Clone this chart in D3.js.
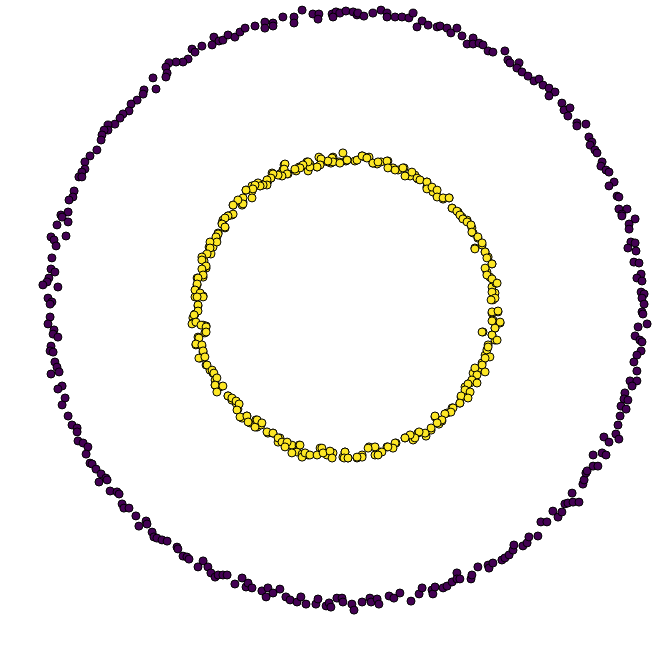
<!DOCTYPE html>
<html>
<head>
<meta charset="utf-8">
<script src="https://cdn.jsdelivr.net/npm/d3@7"></script>
<style>
html,body{margin:0;padding:0;background:#fff;}
svg{display:block;}
</style>
</head>
<body>
<div id="chart"></div>
<script>
// Class labels and colours (viridis endpoints)
const classes = ["outer", "inner"];
const classColors = ["#440154", "#fde725"];

// Outer ring (class 0) points, data units
const outerPoints = [
[-0.437,0.903],[-0.420,0.890],[-0.477,0.873],[-0.443,0.877],[-0.510,0.863],[-0.500,0.853],[-0.523,0.830],[-0.540,0.820],[-0.563,0.820],[-0.587,0.817],
[-0.597,0.803],[-0.593,0.783],[-0.597,0.770],[-0.640,0.767],[-0.630,0.730],[-0.670,0.727],[-0.673,0.713],[-0.693,0.693],[-0.713,0.680],[-0.720,0.657],
[-0.740,0.647],[-0.750,0.633],[-0.767,0.613],[-0.790,0.610],[-0.790,0.593],[-0.803,0.593],[-0.810,0.577],[-0.813,0.560],[-0.827,0.527],[-0.850,0.507],
[-0.867,0.487],[-0.867,0.463],[-0.877,0.453],[-0.887,0.437],[-0.877,0.437],[-0.903,0.390],[-0.907,0.370],[-0.920,0.360],[-0.923,0.320],[-0.947,0.310],
[-0.407,0.893],[-0.390,0.910],[-0.367,0.903],[-0.350,0.920],[-0.333,0.933],[-0.300,0.940],[-0.267,0.953],[-0.267,0.933],[-0.240,0.950],[-0.240,0.940],
[-0.207,0.970],[-0.170,0.970],[-0.170,0.950],[-0.143,0.993],[-0.107,0.980],[-0.087,0.980],[-0.090,0.963],[-0.043,0.980],[-0.030,0.987],[-0.040,0.970],
[-0.017,0.983],[0.003,0.990],[0.027,0.987],[0.040,0.977],[0.043,0.983],[0.063,0.973],[0.093,0.983],[0.120,0.993],[0.140,0.983],[0.140,0.970],
[0.167,0.970],[0.190,0.970],[0.213,0.967],[0.227,0.983],[0.257,0.957],[0.240,0.937],[0.277,0.943],[0.307,0.937],
[0.317,0.940],[0.340,0.933],[0.353,0.917],[0.373,0.933],[0.390,0.907],[0.427,0.900],[0.407,0.880],[0.427,0.880],[0.447,0.883],[0.460,0.877],
[0.477,0.857],[0.493,0.853],[0.533,0.857],[0.543,0.827],[0.550,0.817],[0.580,0.817],[0.573,0.800],[0.590,0.787],[0.610,0.773],[0.630,0.757],
[0.647,0.763],[0.660,0.743],[0.680,0.733],[0.700,0.720],[0.680,0.707],[0.723,0.683],[0.730,0.660],[0.750,0.667],[0.743,0.640],[0.773,0.617],
[0.773,0.607],[0.803,0.613],[0.813,0.570],[0.823,0.553],[0.817,0.543],[0.833,0.527],[0.840,0.517],[0.857,0.487],[0.853,0.473],[0.870,0.460],
[0.880,0.453],[0.897,0.420],[0.880,0.407],[0.907,0.373],[0.913,0.370],[0.913,0.330],[0.940,0.330],[0.923,0.313],
[-0.943,0.303],[-0.923,0.287],[-0.960,0.277],[-0.980,0.237],[-0.970,0.227],[-0.930,0.240],[-0.963,0.207],[-0.977,0.167],[-0.980,0.130],[-0.967,0.120],
[-0.987,0.100],[-0.993,0.087],[-1.007,0.077],[-0.957,0.070],[-0.990,0.033],[-0.977,0.020],[-0.983,0.013],[-0.983,-0.030],[-0.990,-0.053],[-0.970,-0.073],
[-0.973,-0.087],[-0.957,-0.097],[-0.980,-0.127],[-0.983,-0.143],[-0.973,-0.147],[-0.967,-0.180],[-0.960,-0.197],[-0.953,-0.213],[-0.980,-0.220],[-0.943,-0.260],
[-0.957,-0.270],[-0.933,-0.300],[-0.943,-0.323],[-0.923,-0.360],[-0.910,-0.390],[-0.893,-0.400],
[-0.893,-0.413],[-0.890,-0.443],[-0.873,-0.450],[-0.857,-0.463],[-0.863,-0.487],[-0.850,-0.517],[-0.843,-0.520],[-0.830,-0.537],[-0.813,-0.553],[-0.797,-0.567],
[-0.793,-0.573],[-0.820,-0.580],[-0.783,-0.610],[-0.760,-0.613],[-0.753,-0.620],[-0.743,-0.653],[-0.737,-0.667],[-0.720,-0.667],[-0.697,-0.693],[-0.663,-0.710],
[-0.660,-0.720],[-0.687,-0.727],[-0.643,-0.747],[-0.637,-0.763],[-0.627,-0.767],[-0.610,-0.773],[-0.593,-0.777],[-0.560,-0.797],[-0.557,-0.803],[-0.540,-0.827],
[-0.527,-0.830],[-0.520,-0.837],[-0.473,-0.843],[-0.490,-0.863],[-0.457,-0.863],[-0.447,-0.883],[-0.433,-0.897],[-0.423,-0.890],
[-0.407,-0.890],[-0.393,-0.890],[-0.367,-0.920],[-0.343,-0.900],[-0.330,-0.930],[-0.323,-0.917],[-0.310,-0.933],[-0.277,-0.943],[-0.263,-0.963],[-0.257,-0.933],
[-0.240,-0.950],[-0.217,-0.937],[-0.197,-0.963],[-0.183,-0.973],[-0.160,-0.980],[-0.147,-0.963],[-0.130,-0.987],[-0.097,-0.987],[-0.090,-0.970],[-0.063,-0.993],
[-0.053,-0.983],[-0.047,-0.997],[-0.027,-0.967],[-0.010,-0.967],[-0.007,-0.980],[0.023,-0.987],[0.030,-1.007],[0.057,-0.980],[0.083,-0.967],[0.087,-0.980],
[0.107,-0.970],[0.113,-0.987],[0.147,-0.960],[0.163,-0.967],[0.183,-0.950],[0.220,-0.977],[0.247,-0.953],[0.257,-0.933],[0.290,-0.940],[0.293,-0.953],[0.300,-0.930],
[0.327,-0.933],[0.340,-0.927],[0.357,-0.913],[0.373,-0.883],[0.373,-0.903],[0.383,-0.903],[0.420,-0.903],[0.423,-0.890],[0.443,-0.863],[0.477,-0.857],
[0.480,-0.867],[0.493,-0.850],[0.523,-0.840],[0.533,-0.833],[0.547,-0.823],[0.560,-0.807],[0.563,-0.790],[0.593,-0.793],[0.607,-0.783],[0.613,-0.763],
[0.643,-0.760],[0.653,-0.713],[0.673,-0.713],[0.693,-0.677],[0.710,-0.697],[0.723,-0.680],[0.733,-0.653],[0.743,-0.650],[0.757,-0.617],[0.760,-0.647],
[0.780,-0.647],[0.793,-0.587],[0.797,-0.573],[0.803,-0.550],[0.807,-0.543],[0.827,-0.527],[0.843,-0.527],[0.827,-0.490],[0.857,-0.483],[0.870,-0.490],
[0.863,-0.430],[0.880,-0.447],[0.903,-0.420],[0.913,-0.437],
[0.923,0.307],[0.967,0.297],[0.947,0.280],[0.947,0.263],[0.953,0.220],[0.967,0.217],[0.943,0.200],[0.970,0.190],[0.963,0.153],[0.980,0.150],
[0.987,0.113],[0.973,0.100],[0.990,0.090],[0.987,0.053],[0.997,0.047],[0.990,0.033],[0.997,0.013],[0.990,-0.013],[0.993,-0.020],[1.007,-0.053],
[0.977,-0.063],[0.967,-0.093],[0.983,-0.107],[0.990,-0.113],[0.987,-0.143],[0.973,-0.157],[0.963,-0.180],[0.973,-0.210],[0.950,-0.243],[0.973,-0.243],
[0.957,-0.260],[0.933,-0.283],[0.930,-0.303],[0.943,-0.307],[0.920,-0.327],[0.937,-0.337],[0.917,-0.360],[0.910,-0.390]
];

// Inner ring (class 1) points, data units
const innerPoints = [
[-0.007,0.517],[0.033,0.490],[0.057,0.507],[0.067,0.503],[0.080,0.503],[0.003,0.490],[-0.020,0.487],[-0.040,0.503],[-0.047,0.483],[-0.057,0.487],
[-0.077,0.487],[-0.087,0.503],[-0.093,0.470],[-0.117,0.480],[-0.127,0.487],[-0.123,0.457],[-0.153,0.470],[-0.163,0.457],[-0.190,0.447],[-0.203,0.477],
[-0.207,0.460],[-0.217,0.447],[-0.243,0.450],[-0.247,0.433],[-0.257,0.423],[-0.270,0.413],[-0.283,0.407],[-0.290,0.417],[-0.310,0.407],[-0.310,0.390],
[-0.330,0.393],[-0.340,0.353],[-0.350,0.357],[-0.373,0.343],[-0.343,0.343],[-0.377,0.310],[-0.390,0.307],[-0.407,0.293],[-0.410,0.283],[-0.400,0.267],
[-0.423,0.250],[-0.427,0.237],[-0.443,0.220],[-0.440,0.203],[-0.453,0.203],[-0.447,0.180],[-0.473,0.170],[-0.470,0.157],[-0.463,0.133],[-0.473,0.130],
[-0.473,0.103],[-0.493,0.100],[-0.493,0.077],[-0.497,0.063],[-0.473,0.040],[-0.500,0.037],[-0.490,0.007],[-0.500,-0.020],[-0.507,-0.033],[-0.507,-0.050],
[-0.473,-0.057],[-0.463,-0.060],[-0.467,-0.083],[-0.490,-0.097],[-0.497,-0.123],[-0.477,-0.127],[-0.473,-0.147],[-0.483,-0.167],[-0.463,-0.190],[-0.450,-0.207],
[-0.440,-0.217],[-0.433,-0.240],[-0.433,-0.257],[-0.417,-0.263],[-0.390,-0.293],[-0.377,-0.307],[-0.363,-0.317],[-0.357,-0.337],[-0.343,-0.367],[-0.327,-0.360],
[-0.317,-0.383],[-0.297,-0.373],[-0.293,-0.397],[-0.280,-0.390],[-0.257,-0.417],[-0.240,-0.417],[-0.217,-0.433],[-0.223,-0.447],[-0.193,-0.450],[-0.177,-0.457],
[-0.153,-0.457],[-0.160,-0.480],[-0.143,-0.487],[-0.123,-0.490],[-0.083,-0.467],[-0.073,-0.480],[-0.060,-0.490],[-0.040,-0.483],[0.000,-0.480],[-0.007,-0.497],
[0.010,-0.500],[0.040,-0.500],[0.057,-0.490],[0.080,-0.463],[0.100,-0.490],[0.117,-0.480],[0.140,-0.463],[0.170,-0.450],[0.200,-0.433],[0.227,-0.440],
[0.243,-0.417],[0.270,-0.427],[0.287,-0.407],[0.300,-0.363],[0.313,-0.387],[0.323,-0.377],[0.340,-0.350],[0.357,-0.333],[0.383,-0.317],[0.387,-0.297],
[0.407,-0.283],[0.400,-0.263],[0.417,-0.250],[0.433,-0.233],[0.427,-0.217],[0.443,-0.203],[0.457,-0.183],[0.467,-0.157],[0.473,-0.140],[0.477,-0.123],
[0.500,-0.107],[0.490,-0.090],[0.460,-0.080],[0.500,-0.067],[0.517,-0.050],[0.493,-0.040],[0.510,-0.013],[0.490,-0.017],[0.493,0.027],[0.500,0.050],
[0.490,0.070],[0.503,0.083],[0.483,0.103],[0.473,0.120],[0.490,0.147],[0.477,0.170],[0.467,0.187],[0.457,0.210],[0.433,0.200],[0.443,0.233],
[0.427,0.250],[0.423,0.267],[0.407,0.293],[0.390,0.303],[0.377,0.320],[0.357,0.333],[0.347,0.367],[0.327,0.363],[0.307,0.373],[0.293,0.387],
[0.273,0.403],[0.273,0.420],[0.243,0.430],[0.233,0.443],[0.217,0.440],[0.197,0.467],[0.177,0.460],[0.160,0.467],[0.143,0.490],[0.120,0.487],
[0.107,0.480],[0.093,0.483],
[-0.043,0.500],[-0.040,0.487],[-0.017,0.483],[0.007,0.493],[-0.057,0.490],[-0.080,0.497],[-0.083,0.477],[-0.093,0.470],[-0.117,0.470],[-0.123,0.487],
[-0.140,0.477],[-0.150,0.467],[-0.167,0.463],[-0.200,0.480],[-0.203,0.463],[-0.193,0.447],[-0.210,0.440],[-0.223,0.443],[-0.240,0.447],[-0.247,0.433],
[-0.260,0.427],[-0.260,0.410],[-0.273,0.410],[-0.283,0.407],[-0.300,0.410],[-0.307,0.397],[-0.310,0.367],[-0.330,0.393],[-0.340,0.367],[-0.340,0.347],
[-0.357,0.360],[-0.373,0.343],[-0.373,0.313],[-0.390,0.307],[-0.400,0.300],[-0.410,0.280],[-0.400,0.270],[-0.423,0.247],[-0.430,0.237],[-0.427,0.220],
[-0.450,0.220],[-0.450,0.200],[-0.460,0.180],[-0.477,0.170],[-0.477,0.160],[-0.463,0.140],[-0.477,0.130],[-0.473,0.110],[-0.490,0.100],[-0.493,0.080],
[-0.500,0.060],[-0.483,0.050],[-0.473,0.037],[-0.493,0.037],[-0.490,0.010],[-0.490,-0.010],[-0.503,-0.023],[-0.510,-0.053],[-0.497,-0.047],[-0.480,-0.057],
[-0.463,-0.063],[-0.463,-0.080],[-0.487,-0.100],[-0.497,-0.120],[-0.477,-0.123],[-0.473,-0.143],[-0.487,-0.167],[-0.467,-0.163],[-0.460,-0.190],[-0.443,-0.207],
[-0.437,-0.217],[-0.427,-0.233],[-0.433,-0.257],[-0.427,-0.280],[-0.407,-0.260],[-0.390,-0.293],[-0.377,-0.300],[-0.363,-0.310],[-0.353,-0.320],[-0.360,-0.340],
[-0.350,-0.363],[-0.327,-0.360],[-0.323,-0.380],[-0.300,-0.397],[-0.293,-0.373],[-0.277,-0.383],[-0.260,-0.413],[-0.240,-0.417],[-0.223,-0.433],[-0.210,-0.447],
[-0.193,-0.447],[-0.200,-0.463],[-0.177,-0.483],[-0.150,-0.457],[-0.143,-0.497],[-0.133,-0.483],[-0.117,-0.490],[-0.093,-0.490],[-0.077,-0.467],[-0.073,-0.483],
[-0.050,-0.477],[-0.043,-0.500],[0.000,-0.480],[-0.003,-0.500],
[0.007,0.493],[0.040,0.493],[0.057,0.507],[0.073,0.500],[0.093,0.483],[0.110,0.487],[0.140,0.490],[0.143,0.467],[0.167,0.460],[0.193,0.467],
[0.200,0.440],[0.223,0.453],[0.240,0.433],[0.250,0.427],[0.273,0.420],[0.273,0.397],[0.290,0.403],[0.307,0.393],[0.307,0.370],[0.327,0.367],
[0.347,0.367],[0.357,0.333],[0.373,0.323],[0.383,0.310],[0.393,0.297],[0.407,0.287],[0.420,0.277],[0.423,0.253],[0.443,0.237],[0.457,0.217],
[0.433,0.197],[0.467,0.187],[0.473,0.167],[0.490,0.147],[0.467,0.133],[0.473,0.110],[0.490,0.097],[0.507,0.083],[0.490,0.053],[0.500,0.033],
[0.487,0.027],[0.490,-0.013],[0.510,-0.010],[0.517,-0.047],[0.490,-0.043],[0.500,-0.067],[0.490,-0.090],[0.507,-0.107],[0.457,-0.080],[0.477,-0.130],
[0.483,-0.163],[0.467,-0.167],[0.457,-0.190],[0.433,-0.200],[0.467,-0.213],[0.440,-0.223],[0.423,-0.240],[0.440,-0.250],[0.410,-0.253],[0.400,-0.273],
[0.417,-0.280],[0.387,-0.293],[0.410,-0.300],[0.383,-0.317],[0.360,-0.333],[0.353,-0.347],[0.333,-0.353],[0.323,-0.373],[0.300,-0.360],[0.307,-0.383],
[0.287,-0.400],[0.267,-0.417],[0.247,-0.413],[0.233,-0.433],[0.217,-0.423],[0.200,-0.433],[0.167,-0.450],[0.160,-0.467],[0.143,-0.463],[0.123,-0.480],
[0.110,-0.490],[0.100,-0.463],[0.077,-0.467],[0.057,-0.497],[0.040,-0.497],[0.010,-0.500]
];

const W = 660, H = 645;
const x = d3.scaleLinear().domain([-1.15, 1.05]).range([0, W]);
const y = d3.scaleLinear().domain([-1.1233, 1.0267]).range([H, 0]);

const svg = d3.select("#chart").append("svg")
  .attr("width", W).attr("height", H);

const series = [outerPoints, innerPoints];
series.forEach((pts, i) => {
  svg.append("g").attr("class", classes[i])
    .selectAll("circle").data(pts).join("circle")
    .attr("cx", d => x(d[0]))
    .attr("cy", d => y(d[1]))
    .attr("r", 4)
    .attr("fill", classColors[i])
    .attr("stroke", "#000")
    .attr("stroke-width", 1);
});
</script>
</body>
</html>
